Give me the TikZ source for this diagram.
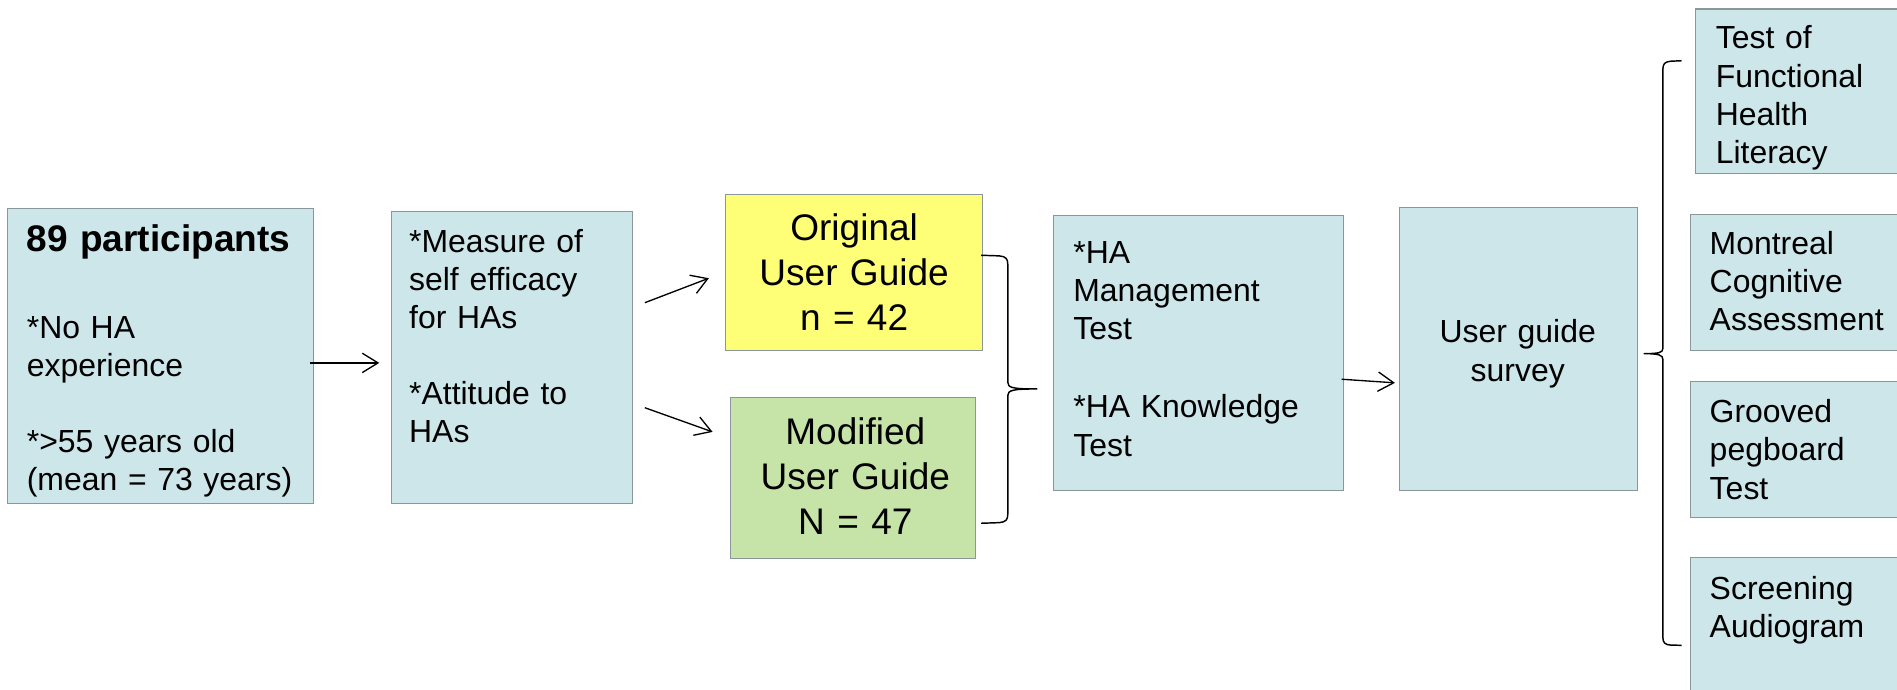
\documentclass[tikz,border=0pt]{standalone}
\usepackage{fontspec}
\setmainfont{Liberation Sans}
\usetikzlibrary{arrows.meta}
\definecolor{boxblue}{HTML}{CCE6EA}
\definecolor{boxyellow}{HTML}{FFFF77}
\definecolor{boxgreen}{HTML}{C6E4A8}
\definecolor{boxline}{HTML}{8A9799}
\newcommand{\smalltxt}{\fontsize{26.4pt}{31.5pt}\selectfont}
\newcommand{\bigtxt}{\fontsize{30.6pt}{37pt}\selectfont}
\tikzset{
  box/.style={draw=boxline, line width=0.9pt, fill=boxblue, inner sep=0pt, anchor=north west},
  ltext/.style={anchor=base west, inner sep=0pt, text width=260pt, align=left, font=\smalltxt},
  ctext/.style={anchor=base, inner sep=0pt, text width=240pt, align=center},
  arr/.style={line width=1.1pt, -{Straight Barb[length=13pt,width=16pt,line width=1.1pt]}},
  brace/.style={line width=1.2pt, line join=round}
}
\begin{document}
\begin{tikzpicture}[x=1pt,y=-1pt]
\clip (0,0) rectangle (1568,570);
\fill[white] (0,0) rectangle (1568,570);

% boxes
\node[box, minimum width=253pt, minimum height=244pt] (b1) at (6,172) {};
\node[box, minimum width=199pt, minimum height=242pt] (b2) at (323,174) {};
\node[box, fill=boxyellow, minimum width=213pt, minimum height=129pt] (orig) at (599,160) {};
\node[box, fill=boxgreen, minimum width=203pt, minimum height=133pt] (mod) at (603,328) {};
\node[box, minimum width=240pt, minimum height=227pt] (ha) at (870,178) {};
\node[box, minimum width=197pt, minimum height=234pt] (surv) at (1156,171) {};
\node[box, minimum width=250pt, minimum height=136pt] (r1) at (1401,7) {};
\node[box, minimum width=250pt, minimum height=112pt] (r2) at (1397,177) {};
\node[box, minimum width=250pt, minimum height=112pt] (r3) at (1397,315) {};
\node[box, minimum width=250pt, minimum height=150pt] (r4) at (1397,460) {};

% texts
\node[ltext, font=\bigtxt\bfseries] (t1a) at (22,208) {89 participants};
\node[ltext] (t1b) at (22,279.5) {*No HA\\experience\\[31.5pt]*>55 years old\\(mean = 73 years)};
\node[ltext] (t2) at (338,208.5) {*Measure of\\self efficacy\\for HAs\\[31.5pt]*Attitude to\\HAs};
\node[ctext, font=\bigtxt] (torig) at (706,199) {Original\\User Guide\\n = 42};
\node[ctext, font=\fontsize{30.6pt}{37.5pt}\selectfont] (tmod) at (707,367) {Modified\\User Guide\\N = 47};
\node[ltext] (tha) at (887,217.5) {*HA\\Management\\Test\\[33.5pt]*HA Knowledge\\Test};
\node[ctext, font=\fontsize{26.4pt}{32pt}\selectfont] (tsurv) at (1254.5,283.5) {User guide\\survey};
\node[ltext] (tr1) at (1418,40.5) {Test of\\Functional\\Health\\Literacy};
\node[ltext] (tr2) at (1413,210.5) {Montreal\\Cognitive\\Assessment};
\node[ltext] (tr3) at (1413,349.5) {Grooved\\pegboard\\Test};
\node[ltext] (tr4) at (1413,495.5) {Screening\\Audiogram};

% connectors
\coordinate (a1s) at (533,250.2);
\coordinate (a2s) at (533,337);
\coordinate (a2e) at (589,357);
\draw[arr] ([shift={(-4,5.5)}]b1.east) -- ([shift={(-9.5,4.5)}]b2.west);
\draw[arr, shorten >=14pt] (a1s) -- (orig.west);
\draw[arr] (a2s) -- (a2e);
\draw[arr] ([shift={(-2,21.5)}]ha.east) -- ([shift={(-3,28)}]surv.west);

% brace joining the two guide groups
\draw[brace] (811,211) -- (826,211.5) .. controls (831.5,212) and (833,214) .. (833,218.5)
  -- (833,316) .. controls (833,320.5) and (837,321.5) .. (857,321.5)
  .. controls (837,321.5) and (833,322.5) .. (833,327)
  -- (833,425) .. controls (833,429.5) and (831.5,431.5) .. (826,432) -- (811,432.5);

% brace spanning the four assessments
\draw[brace] (1390,50.2) -- (1381,50.6) .. controls (1376,51) and (1374.5,53) .. (1374.5,57)
  -- (1374.5,288) .. controls (1374.5,291.5) and (1371,292.3) .. (1359,292.3)
  .. controls (1371,292.3) and (1374.5,293.5) .. (1374.5,297)
  -- (1374.5,527) .. controls (1374.5,531) and (1376,533) .. (1381,533.2) -- (1390,533.4);
\end{tikzpicture}
\end{document}
